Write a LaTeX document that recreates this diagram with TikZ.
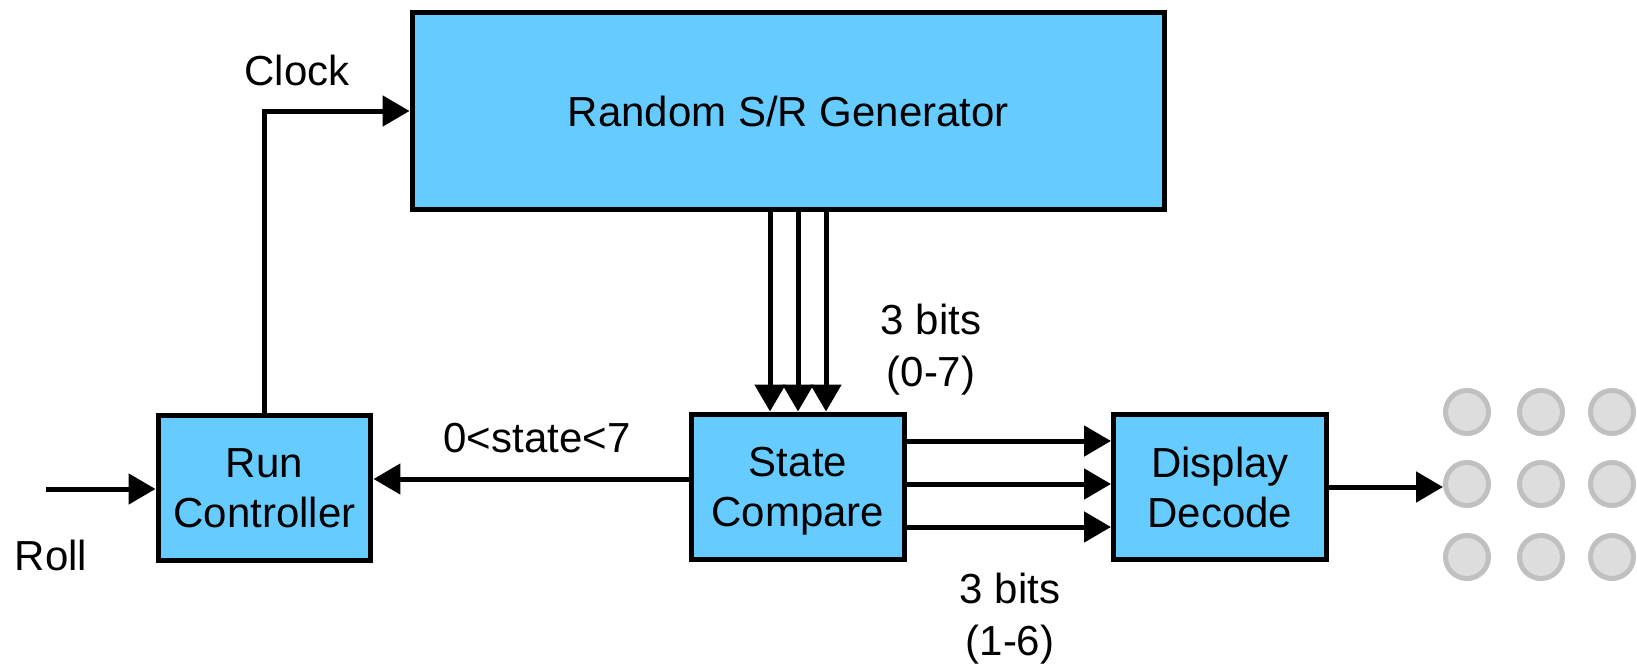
\documentclass[tikz,border=0pt]{standalone}
\usepackage{fontspec}
\setmainfont{Liberation Sans}
\usepackage{tikz}
\usetikzlibrary{arrows.meta, positioning, calc}
\definecolor{blockfill}{RGB}{102,204,255}
\definecolor{ledring}{RGB}{192,192,192}
\definecolor{ledfill}{RGB}{221,221,221}
\tikzset{
  blockbox/.style={
    draw, line width=0.1cm, fill=blockfill, align=center,
    font=\fontsize{23.9}{28.4}\selectfont, text depth=0pt,
    minimum width=4.26cm, minimum height=2.92cm, inner sep=0pt
  },
  sigarrow/.style={
    -{Triangle[length=0.54cm, width=0.6cm]}, line width=0.1cm
  },
  siglabel/.style={
    align=center, font=\fontsize{23.9}{29.6}\selectfont, inner sep=0pt
  },
  ledcircle/.style={
    circle, draw=ledring, fill=ledfill, line width=0.1cm,
    minimum size=0.86cm, inner sep=0pt
  },
}

\begin{document}
\begin{tikzpicture}[x=0.02cm, y=-0.02cm]
  \useasboundingbox (0,0) rectangle (1637,666);

  % Generator block across the top
  \node[blockbox, minimum width=15.06cm, minimum height=3.96cm] (gen)
    at (788.5,111) {Random S/R Generator};

  % Lower row of blocks
  \node[blockbox] (run) at (264.5,488) {Run\\Controller};
  \node[blockbox] (cmp) at (798,487) {State\\Compare};
  \node[blockbox] (dsp) at (1220,487) {Display\\Decode};

  % 3x3 LED face
  \foreach \r/\yy in {1/412,2/484,3/557}
    \foreach \c/\xx in {1/1467,2/1541,3/1612}
      \node[ledcircle] (led\r\c) at (\xx,\yy) {};

  % Roll input and clock
  \coordinate (rollin) at (46,489);
  \draw[sigarrow] (rollin) -- (rollin -| run.west);
  \draw[sigarrow] (run.north) |- (gen.west);

  % Generator bus down to the compare block
  \foreach \dx in {-28,0,28}
    \draw[sigarrow] ($(cmp.north |- gen.south)+(\dx,0)$) -- ($(cmp.north)+(\dx,0)$);

  % Feedback to the controller
  \coordinate (fb) at ($(cmp.west)+(0,-8)$);
  \draw[sigarrow] (fb) -- (fb -| run.east);

  % Compare to decode bus
  \foreach \dy in {-46,-3,40}
    \draw[sigarrow] ($(cmp.east)+(0,\dy)$) -- ($(dsp.west)+(0,\dy)$);

  % Decode out to the LEDs
  \draw[sigarrow] (dsp.east) -- (dsp.east -| led21.west);

  % Signal labels
  \node[siglabel, anchor=base] (clk) at (297,85) {Clock};
  \node[siglabel, anchor=base] (roll) at (51,570) {Roll};
  \node[siglabel, anchor=base] (cond) at (537,452) {0<state<7};
  \node[siglabel] (bitsin) at (931,350) {3 bits\\(0-7)};
  \node[siglabel] (bitsout) at (1010,619) {3 bits\\(1-6)};
\end{tikzpicture}
\end{document}
